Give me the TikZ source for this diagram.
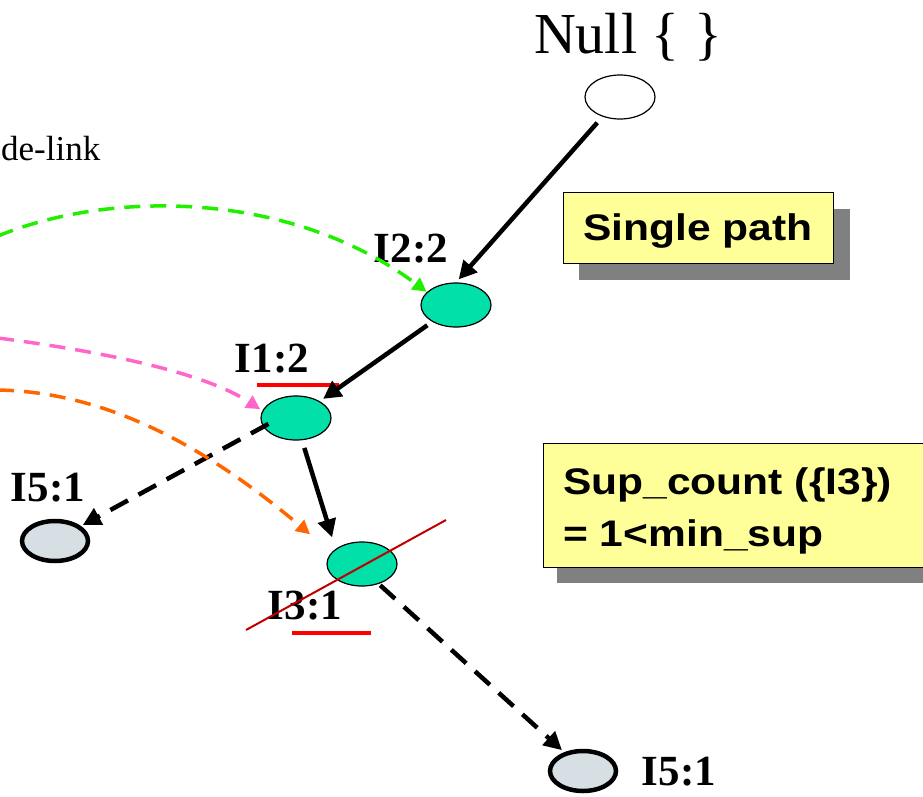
\documentclass[tikz,border=0pt]{standalone}
\usepackage{fontspec}
\setmainfont{Liberation Serif}
\setsansfont{Liberation Sans}
\usetikzlibrary{shapes.geometric,arrows.meta}
\definecolor{itemgreen}{HTML}{00E0A8}
\definecolor{leafgray}{HTML}{D6DFE4}
\definecolor{notebg}{HTML}{FFFF99}
\definecolor{shadowgray}{HTML}{808080}
\definecolor{linkgreen}{HTML}{22EE00}
\definecolor{linkpink}{HTML}{FF66CC}
\definecolor{linkorange}{HTML}{FF6600}
\definecolor{crossred}{HTML}{C00000}
\newcommand{\widesans}[1]{\scalebox{1.15}[1]{#1}}
\tikzset{
  itemnode/.style={ellipse,draw=black,line width=1.2pt,fill=itemgreen,
    minimum width=70pt,minimum height=44pt,inner sep=0pt},
  leafnode/.style={ellipse,draw=black,line width=4.5pt,fill=leafgray,
    minimum width=66pt,minimum height=40pt,inner sep=0pt},
  rootnode/.style={ellipse,draw=black,line width=1.2pt,fill=white,
    minimum width=70pt,minimum height=44pt,inner sep=0pt},
  countlabel/.style={font=\fontsize{43}{45}\selectfont\bfseries,inner sep=0pt},
  treearrow/.style={line width=4.5pt,-{Triangle[length=18pt,width=18pt]}},
  dasharrow/.style={line width=4.5pt,dash pattern=on 20pt off 12pt,
    -{Triangle[length=18pt,width=18pt]}},
  linkarrow/.style={line width=3.5pt,dash pattern=on 16pt off 10pt,
    -{Triangle[length=14pt,width=14pt]}},
  notebox/.style={draw=black,line width=1pt,fill=notebg},
  notetext/.style={inner sep=0pt,align=left,
    font=\sffamily\bfseries\fontsize{37}{52}\selectfont},
  underline/.style={draw=red,line width=4pt}
}
\begin{document}
\begin{tikzpicture}[x=1pt,y=-1pt]
\useasboundingbox (0,0) rectangle (923,797);

% root of the tree
\node[font=\fontsize{58}{60}\selectfont,anchor=base] (nulltxt) at (628,54) {Null \{ \}};
\node[rootnode] (null) at (620,97) {};

% header link label
\node[font=\fontsize{35}{37}\selectfont,anchor=base west,inner sep=0pt] (hdr) at (1,160) {de-link};

% tree nodes
\node[itemnode] (i2) at (456,305) {};
\node[itemnode] (i1) at (296,418) {};
\node[itemnode] (i3) at (362,564) {};
\node[leafnode] (i5a) at (55,541) {};
\node[leafnode] (i5b) at (583,771) {};

% counts
\node[countlabel,anchor=base] (l2) at (411,262) {I2:2};
\node[countlabel,anchor=base] (l1) at (272,372) {I1:2};
\node[countlabel,anchor=base] (l3) at (305,619) {I3:1};
\node[countlabel,anchor=base] (l5a) at (48,501) {I5:1};
\node[countlabel,anchor=base] (l5b) at (679,785) {I5:1};

% underlines
\coordinate (u1a) at (257,385); \coordinate (u1b) at (339,385);
\coordinate (u3a) at (292,633); \coordinate (u3b) at (371,633);
\draw[underline] (u1a) -- (u1b);
\draw[underline] (u3a) -- (u3b);

% tree edges
\draw[treearrow,shorten <=8pt,shorten >=4pt] (null) -- (i2.north);
\draw[treearrow,shorten <=6pt,shorten >=4pt] (i2) -- (i1);
\draw[treearrow,shorten <=8pt,shorten >=12pt] (i1.-75) -- (i3.150);
\draw[dasharrow,shorten <=-6pt,shorten >=2pt] (i1.195) -- (i5a.30);
\draw[dasharrow,shorten <=2pt,shorten >=3pt] (i3.-50) -- (i5b.135);

% node links
\coordinate (g0) at (-2,236);
\coordinate (p0) at (-2,338);
\coordinate (o0) at (-2,390);
\draw[linkarrow,draw=linkgreen] (g0) .. controls (110,190) and (290,190) .. ([xshift=-3pt,yshift=-2pt]i2.150);
\draw[linkarrow,draw=linkpink] (p0) .. controls (90,350) and (200,370) .. ([xshift=-3pt]i1.165);
\draw[linkarrow,draw=linkorange] (o0) .. controls (110,392) and (210,450) .. ([xshift=-28pt,yshift=13pt]i3.145);

% pruned item
\coordinate (x1) at (246,630); \coordinate (x2) at (446,520);
\draw[crossred,line width=2pt] (x1) -- (x2);

% notes
\fill[shadowgray] (579,209) rectangle (850,280);
\draw[notebox] (563,192) rectangle (833,263);
\node[notetext,anchor=base] (single) at (698,240) {\widesans{Single path}};
\fill[shadowgray] (557,459) rectangle (930,583);
\draw[notebox] (543,443) rectangle (935,567);
\node[notetext,anchor=base west] (supnote) at (563,546) {\widesans{Sup\_count (\{I3\})}\\\widesans{= 1<min\_sup}};
\end{tikzpicture}
\end{document}
